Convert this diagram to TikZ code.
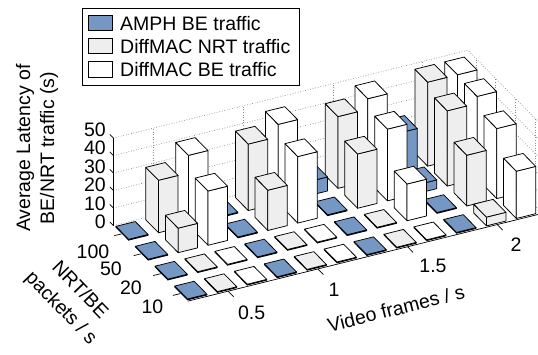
\documentclass[tikz,border=0pt]{standalone}
\usepackage{fontspec}
\setmainfont{Liberation Sans}
\definecolor{c0}{HTML}{7597C4}
\definecolor{c1}{HTML}{EEEEEE}
\definecolor{c2}{HTML}{FFFFFF}
\definecolor{gridc}{HTML}{8C8C8C}
\newcommand{\drawbar}[4]{%
  \pgfmathsetmacro\il{#1-0.325}\pgfmathsetmacro\ir{#1+0.325}%
  \pgfmathsetmacro\jf{#2-0.325}\pgfmathsetmacro\jb{#2+0.325}%
  \pgfmathsetmacro\hh{max(#3,0.5)}%
  \filldraw[barface, fill=#4] (\il,\jb,0) -- (\il,\jf,0) -- (\il,\jf,\hh) -- (\il,\jb,\hh) -- cycle;
  \filldraw[barface, fill=#4] (\il,\jf,0) -- (\ir,\jf,0) -- (\ir,\jf,\hh) -- (\il,\jf,\hh) -- cycle;
  \filldraw[barface, fill=#4] (\il,\jf,\hh) -- (\ir,\jf,\hh) -- (\ir,\jb,\hh) -- (\il,\jb,\hh) -- cycle;
}
\begin{document}
\begin{tikzpicture}[
  font=\fontsize{19.5}{24}\selectfont,
  barface/.style={draw=black, line width=0.75pt, line join=round},
  gridline/.style={gridc, line width=0.6pt, dash pattern=on 0.8pt off 1.8pt},
  axisline/.style={black, line width=0.7pt},
  lbl/.style={inner sep=0pt},
  patch/.style={draw=black, line width=0.6pt, minimum width=23.4pt, minimum height=15.5pt, anchor=north west, inner sep=0pt},
]
\useasboundingbox (0pt,0pt) rectangle (538pt,-355pt);
\clip (0pt,0pt) rectangle (538pt,-355pt);
\begin{scope}[shift={(190.8pt,-291pt)}, x={(29.9pt,7.4pt)}, y={(-19.6pt,19.9pt)}, z={(0pt,1.75pt)}]
  % grid on back and right walls
  \foreach \z in {0,10,...,50} {
    \draw[gridline] (-0.35,3.42,\z) -- (11.51,3.42,\z) -- (11.51,-0.38,\z);
  }
  \foreach \i in {1,4,7,10} \draw[gridline] (\i,3.42,0) -- (\i,3.42,50);
  \foreach \j in {0,1,2,3} \draw[gridline] (11.51,\j,0) -- (11.51,\j,50);
  % axes
  \coordinate (zbot) at (-0.35,3.42,0);
  \coordinate (ztop) at (-0.35,3.42,50);
  \draw[axisline] (zbot) -- (ztop);
  \foreach \z in {0,10,...,50} \draw[axisline] (-0.35,3.42,\z) -- (-0.35,3.6,\z);
  \coordinate (xleft) at (-0.35,-0.38,0);
  \coordinate (xright) at (11.51,-0.38,0);
  \draw[axisline] (xleft) -- (xright);
  \foreach \i in {1,4,7,10} \draw[axisline] (\i,-0.38,0) -- (\i,-0.66,0);
  \foreach \j in {0,1,2,3} \draw[axisline] (-0.35,\j,0) -- (-0.6,\j,0);
  % bars, back to front
  \foreach \j/\row in {
    3/{11/48,10/48,9/23,8/47,7/41,6/8,5/45,4/38,3/0,2/40,1/30,0/0},
    2/{11/47,10/43,9/5,8/41,7/31,6/0,5/38,4/23,3/0,2/31,1/14,0/0},
    1/{11/40,10/29,9/0,8/21,7/0,6/0,5/0,4/0,3/0,2/0,1/0,0/0},
    0/{11/27,10/5,9/0,8/0,7/0,6/0,5/0,4/0,3/0,2/0,1/0,0/0}} {
    \foreach \i/\h in \row {
      \pgfmathtruncatemacro\k{mod(\i,3)}
      \drawbar{\i}{\j}{\h}{c\k}
    }
  }
\end{scope}
\begin{scope}[x=1pt,y=-1pt]
  % z tick labels
  \foreach \z/\yy in {0/222,10/203.5,20/185,30/166.5,40/148,50/129.5}
    \node[lbl, anchor=east] (zt\z) at (106,\yy) {\z};
  % y tick labels
  \node[lbl] (yt100) at (93,251.5) {100};
  \node[lbl] (yt50) at (111,269) {50};
  \node[lbl] (yt20) at (131,288) {20};
  \node[lbl] (yt10) at (152.5,306.5) {10};
  % x tick labels
  \node[lbl] (xt05) at (251.7,312.5) {0.5};
  \node[lbl] (xt1) at (334,290) {1};
  \node[lbl] (xt15) at (433,266) {1.5};
  \node[lbl] (xt2) at (516,245) {2};
  % axis titles
  \node[lbl, rotate=14] (xlab) at (396,308.5) {Video frames / s};
  \node[lbl, rotate=-46, align=center, font=\fontsize{19.5}{26}\selectfont] (ylab) at (70,299.5) {NRT/BE\\packets / s};
  \node[lbl, rotate=90, align=center] (zlab) at (37,148) {Average Latency of\\BE/NRT traffic (s)};
  % legend
  \node[draw=black, line width=0.6pt, fill=white, minimum width=217pt, minimum height=77pt, anchor=north west, inner sep=0pt] (legendbox) at (82,8) {};
  \node[patch, fill=c0] (p1) at (88.3,15) {};
  \node[patch, fill=c1] (p2) at (88.3,38) {};
  \node[patch, fill=c2] (p3) at (88.3,61.5) {};
  \node[lbl, anchor=base west] (t1) at (120,30.5) {AMPH BE traffic};
  \node[lbl, anchor=base west] (t2) at (120,53.5) {DiffMAC NRT traffic};
  \node[lbl, anchor=base west] (t3) at (120,77) {DiffMAC BE traffic};
\end{scope}
\end{tikzpicture}
\end{document}
